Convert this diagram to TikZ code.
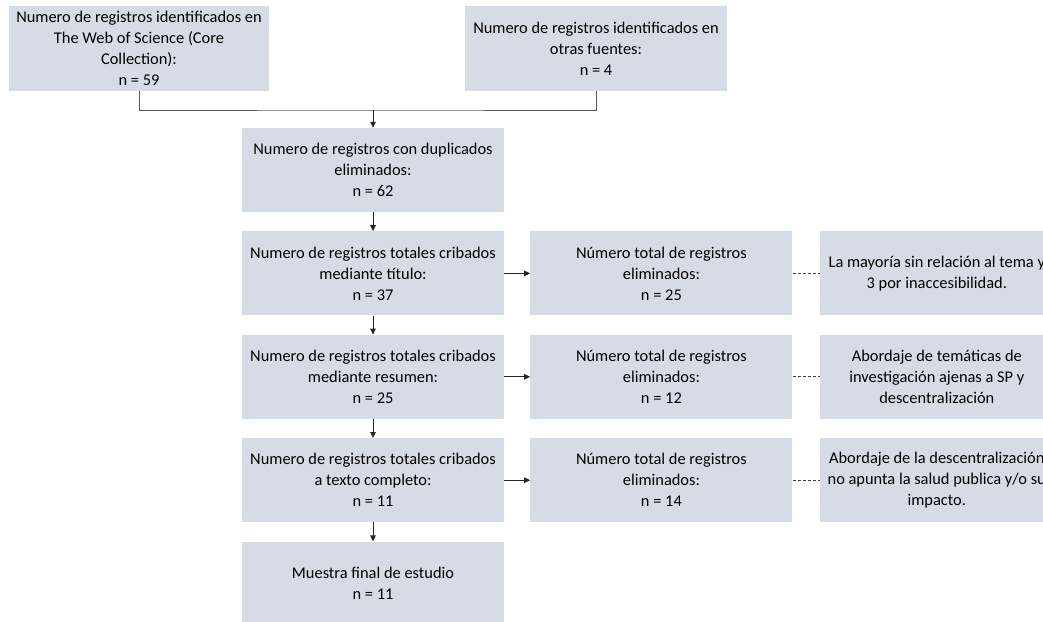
\documentclass[tikz,border=0pt]{standalone}
\usepackage{fontspec}
\setmainfont{Carlito}
\usetikzlibrary{arrows.meta,positioning}
\definecolor{boxfill}{HTML}{D6DCE5}

\begin{document}
\begin{tikzpicture}[x=1pt, y=-1pt,
    box/.style={fill=boxfill, align=center, inner sep=0pt, minimum width=262pt, minimum height=84pt,
      font=\fontsize{16.4}{21}\selectfont},
    reason/.style={box, minimum width=234pt},
    arrow/.style={-{Triangle[length=6pt, width=5.5pt]}, line width=1pt, black!85},
    link/.style={line width=1pt, black!65},
    note/.style={dashed, dash pattern=on 3pt off 2pt, line width=0.8pt, black!75}
  ]
    \useasboundingbox (0,0) rectangle (1043,621);
    \node[box, minimum width=260pt, minimum height=85pt] (wos) at (139,48.5) {Numero de registros identificados en\\The Web of Science (Core\\Collection):\\n = 59};
    \node[box, minimum height=85pt] (otras) at (596,48.5) {Numero de registros identificados en\\otras fuentes:\\n = 4};
    \node[box] (dup) at (373,170) {Numero de registros con duplicados\\eliminados:\\n = 62};
    \node[box, below=19pt of dup] (titulo) {Numero de registros totales cribados\\mediante título:\\n = 37};
    \node[box, below=19pt of titulo] (resumen) {Numero de registros totales cribados\\mediante resumen:\\n = 25};
    \node[box, below=19pt of resumen] (completo) {Numero de registros totales cribados\\a texto completo:\\n = 11};
    \node[box, below=19pt of completo] (final) {Muestra final de estudio\\n = 11};
    \node[box, right=26pt of titulo] (elimTitulo) {Número total de registros\\eliminados:\\n = 25};
    \node[box, right=26pt of resumen] (elimResumen) {Número total de registros\\eliminados:\\n = 12};
    \node[box, right=26pt of completo] (elimCompleto) {Número total de registros\\eliminados:\\n = 14};
    \node[reason, right=27pt of elimTitulo] (motivoTitulo) {La mayoría sin relación al tema y\\3 por inaccesibilidad.};
    \node[reason, right=27pt of elimResumen] (motivoResumen) {Abordaje de temáticas de\\investigación ajenas a SP y\\descentralización};
    \node[reason, right=27pt of elimCompleto] (motivoCompleto) {Abordaje de la descentralización\\no apunta la salud publica y/o su\\impacto.};
    \coordinate (merge) at (dup.north |- 0,110);
    \draw[link] (wos.south) |- (merge) -| (otras.south);
    \draw[arrow] (merge) -- (dup.north);
    \draw[arrow] (dup) -- (titulo);
    \draw[arrow] (titulo) -- (resumen);
    \draw[arrow] (resumen) -- (completo);
    \draw[arrow] (completo) -- (final);
    \draw[arrow] (titulo) -- (elimTitulo);
    \draw[arrow] (resumen) -- (elimResumen);
    \draw[arrow] (completo) -- (elimCompleto);
    \draw[note] (elimTitulo) -- (motivoTitulo);
    \draw[note] (elimResumen) -- (motivoResumen);
    \draw[note] (elimCompleto) -- (motivoCompleto);
  \end{tikzpicture}
\end{document}
